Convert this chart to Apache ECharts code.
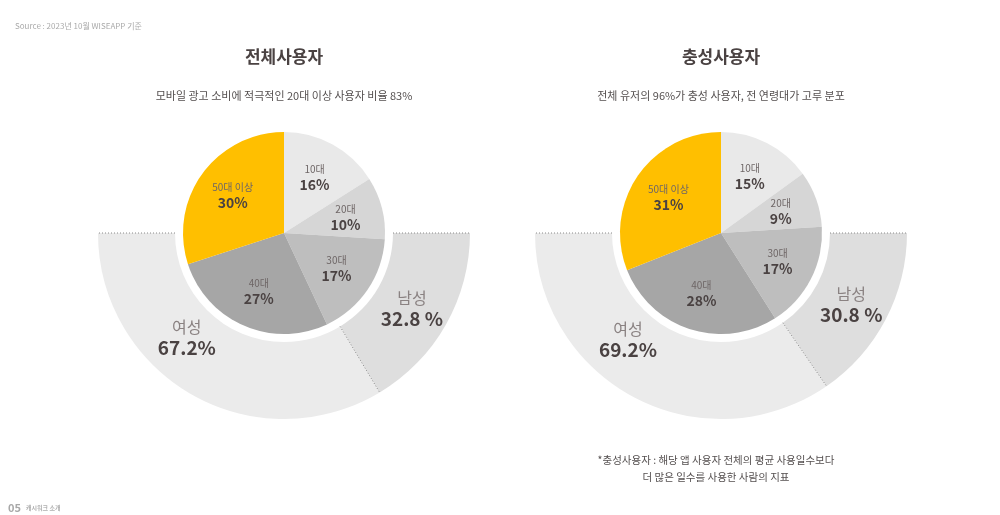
<!DOCTYPE html>
<html>
<head>
<meta charset="utf-8">
<script src="https://cdn.jsdelivr.net/npm/echarts@6/dist/echarts.min.js"></script>
<style>
html,body{margin:0;padding:0;background:#fff;}
#main{width:1000px;height:515px;}
</style>
</head>
<body>
<div id="main"></div>
<script>
// ---- data ----
const ageCategories = ['10대', '20대', '30대', '40대', '50대 이상'];
const allUsersAge = [16, 10, 17, 27, 30];
const loyalUsersAge = [15, 9, 17, 28, 31];
const genderCategories = ['남성', '여성'];
const allUsersGender = [32.8, 67.2];
const loyalUsersGender = [30.8, 69.2];
const chartTitles = ['전체사용자', '충성사용자'];
const chartSubtitles = ['모바일 광고 소비에 적극적인 20대 이상 사용자 비율 83%', '전체 유저의 96%가 충성 사용자, 전 연령대가 고루 분포'];

// ---- styles ----
const FONT = '"Noto Sans CJK KR", "Noto Sans", sans-serif';
const TXT = '#4a4242';
const ageColors = ['#e9e9e9', '#d6d6d6', '#bebebe', '#a6a6a6', '#ffbf00'];
const genderColors = ['#dedede', '#ebebeb'];
const centers = [[284, 233], [721, 233]];
const PIE_R = 101, RING_IN = 109, RING_OUT = 186;

const series = [];
const polars = [], angleAxes = [], radiusAxes = [];

function build(idx, ageVals, genderVals) {
  const c = centers[idx];
  const total = genderVals[0] + genderVals[1];
  const ringRich = {
    n: { fontSize: 16, color: '#8a8282', fontFamily: FONT, lineHeight: 20 },
    v: { fontSize: 19, fontWeight: 'bold', color: TXT, fontFamily: FONT, lineHeight: 22 }
  };
  // outer half ring (bottom half): male from right going clockwise, then female, then blank top half
  series.push({
    type: 'pie', center: c, radius: [RING_IN, RING_OUT],
    startAngle: 0, clockwise: true, silent: true, animation: false,
    labelLine: { show: false },
    data: [
      { name: genderCategories[0], value: genderVals[0], itemStyle: { color: genderColors[0] },
        label: { show: true, position: 'inside', offset: [-3, 2], formatter: p => '{n|' + p.name + '}\n{v|' + p.value + ' %}', rich: ringRich } },
      { name: genderCategories[1], value: genderVals[1], itemStyle: { color: genderColors[1] },
        label: { show: true, position: 'inside', offset: [-23, -26], formatter: p => '{n|' + p.name + '}\n{v|' + p.value + '%}', rich: ringRich } },
      { name: '', value: total, itemStyle: { color: 'rgba(0,0,0,0)' }, label: { show: false } }
    ]
  });
  // inner pie
  series.push({
    type: 'pie', center: c, radius: [0, PIE_R], startAngle: 90, clockwise: true,
    silent: true, animation: false, label: { show: false }, labelLine: { show: false },
    data: ageCategories.map((n, i) => ({ name: n, value: ageVals[i], itemStyle: { color: ageColors[i] } }))
  });
  // label overlay for inner pie (transparent, labels pushed outward)
  series.push({
    type: 'pie', center: c, radius: [20, PIE_R], startAngle: 90, clockwise: true,
    silent: true, animation: false, labelLine: { show: false },
    itemStyle: { color: 'rgba(0,0,0,0)' },
    label: {
      show: true, position: 'inside',
      formatter: p => '{n|' + p.name + '}\n{v|' + p.value + '%}',
      rich: {
        n: { fontSize: 10, color: '#6e6666', fontFamily: FONT, lineHeight: 14 },
        v: { fontSize: 14, fontWeight: 'bold', color: TXT, fontFamily: FONT, lineHeight: 17 }
      }
    },
    data: ageCategories.map((n, i) => ({ name: n, value: ageVals[i] }))
  });
  // polar system for dotted divider lines
  polars.push({ center: c, radius: RING_OUT });
  angleAxes.push({ polarIndex: idx, type: 'value', min: 0, max: 360, startAngle: 0, clockwise: true, show: false });
  radiusAxes.push({ polarIndex: idx, type: 'value', min: 0, max: RING_OUT, show: false });
  const divAngle = genderVals[0] / total * 180;
  const segs = [[[RING_IN, 0], [RING_OUT, 0]], [[RING_IN, 180], [RING_OUT, 180]], [[RING_IN, divAngle], [RING_OUT, divAngle]]];
  segs.forEach(s => series.push({
    type: 'line', coordinateSystem: 'polar', polarIndex: idx, data: s,
    symbol: 'none', silent: true, animation: false,
    lineStyle: { color: '#8a8a8a', width: 1, type: [1, 2] }
  }));
}
build(0, allUsersAge, allUsersGender);
build(1, loyalUsersAge, loyalUsersGender);

const titles = [
  { text: 'Source : 2023년 10월 WISEAPP 기준', left: 15, top: 22, padding: 0,
    textStyle: { fontSize: 8, fontWeight: 'normal', color: '#aaaaaa', fontFamily: FONT } }
];
chartTitles.forEach((t, i) => {
  titles.push({ text: t, left: centers[i][0], top: 48, padding: 0, textAlign: 'center',
    textStyle: { fontSize: 17, fontWeight: 'bold', color: TXT, fontFamily: FONT } });
  titles.push({ text: chartSubtitles[i], left: centers[i][0], top: 90, padding: 0, textAlign: 'center',
    textStyle: { fontSize: 11, fontWeight: 'normal', color: '#555050', fontFamily: FONT } });
});
titles.push({ text: '*충성사용자 : 해당 앱 사용자 전체의 평균 사용일수보다\n더 많은 일수를 사용한 사람의 지표',
  left: 716, top: 452, padding: 0, textAlign: 'center',
  textStyle: { fontSize: 10.5, fontWeight: 'normal', color: '#555050', fontFamily: FONT, lineHeight: 17, align: 'center' } });
titles.push({ text: '{a|05} {b|캐시워크 소개}', left: 8, top: 499, padding: 0,
  textStyle: { rich: { a: { fontSize: 11, color: '#a8a8a8', fontFamily: FONT }, b: { fontSize: 6, color: '#b0b0b0', fontFamily: FONT } } } });

const chart = echarts.init(document.getElementById('main'));
chart.setOption({
  backgroundColor: '#ffffff',
  animation: false,
  title: titles,
  polar: polars,
  angleAxis: angleAxes,
  radiusAxis: radiusAxes,
  series: series
});
</script>
</body>
</html>
